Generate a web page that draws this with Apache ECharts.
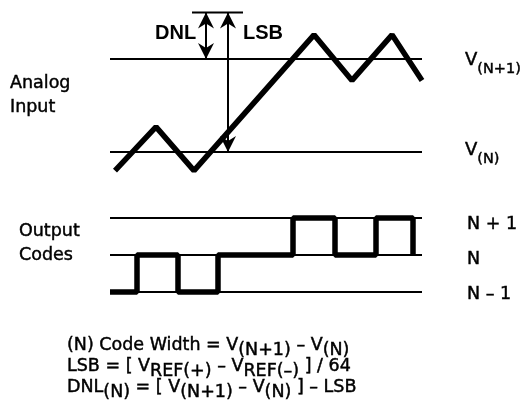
<!DOCTYPE html>
<html><head><meta charset="utf-8">
<script src="https://cdn.jsdelivr.net/npm/echarts@6/dist/echarts.min.js"></script>
<style>html,body{margin:0;padding:0;background:#fff}#c{width:522px;height:405px}</style>
</head><body><div id="c"></div>
<script>
// ---- data (time units along x; analog levels relative to V(N)=0, V(N+1)=1) ----
const timeSpan = [0, 312];
const analogInput = [[5, -0.2], [46, 0.27], [84, -0.2], [204, 1.26], [242, 0.77], [282, 1.26], [312, 0.77]];
const analogRefLevels = [0, 1];          // V(N), V(N+1)
const lsbTopLevel = 1.5;                 // V(N) + 1 LSB
const lsbTopSpan = [82, 133];
const dnlArrow = [96, 1.5, 1];           // x, from, to
const lsbArrow = [118, 1.5, 0];
const codeLevels = [-1, 0, 1];           // N-1, N, N+1
const codeTransitions = [[0, -1], [27, 0], [68, -1], [108, 0], [183, 1], [225, 0], [266, 1], [303, 0]];
const codeLabels = ['N + 1', 'N', 'N \u2013 1'];

const REG = '"DejaVu Sans", "Liberation Sans", Arial, sans-serif';
const FS = 17.5;
const black = '#000';
const STROKE = { stroke: black, lineWidth: 0.45 };

function hline(level, span, xi, w) {
  return {
    type: 'line', xAxisIndex: xi, yAxisIndex: xi, data: [[span[0], level], [span[1], level]],
    showSymbol: false, silent: true, clip: false, animation: false,
    lineStyle: { color: black, width: w }
  };
}

const series = [];
analogRefLevels.forEach(l => series.push(hline(l, timeSpan, 0, 2)));
series.push(hline(lsbTopLevel, lsbTopSpan, 0, 2));
codeLevels.forEach(l => series.push(hline(l, timeSpan, 1, 2)));
series.push({
  type: 'line', xAxisIndex: 0, yAxisIndex: 0, data: analogInput, showSymbol: false,
  silent: true, clip: false, animation: false, lineStyle: { color: black, width: 5.5 }
});
series.push({
  type: 'line', xAxisIndex: 1, yAxisIndex: 1, data: codeTransitions, step: 'end', showSymbol: false,
  silent: true, clip: false, animation: false, lineStyle: { color: black, width: 5.5 }
});
series.push({
  type: 'custom', xAxisIndex: 0, yAxisIndex: 0, data: [dnlArrow, lsbArrow], clip: false, animation: false, silent: true,
  encode: { x: 0, y: [1, 2] },
  renderItem: function (params, api) {
    const x = api.value(0), a = api.value(1), b = api.value(2);
    const p1 = api.coord([x, a]), p2 = api.coord([x, b]);
    const head = (tip, dir) => {
      const L = 16, W = 8, N = 11;
      return {
        type: 'polygon',
        shape: { points: [[tip[0], tip[1]], [tip[0] - W, tip[1] - dir * L], [tip[0], tip[1] - dir * N], [tip[0] + W, tip[1] - dir * L]] },
        style: { fill: black }
      };
    };
    return {
      type: 'group', children: [
        { type: 'line', shape: { x1: p1[0], y1: p1[1], x2: p2[0], y2: p2[1] }, style: { stroke: black, lineWidth: 2 } },
        head(p1, -1), head(p2, 1)
      ]
    };
  }
});

function t(x, y, text, extra) {
  return { type: 'text', silent: true, style: Object.assign({ x: x, y: y, text: text, fontSize: FS, fontFamily: REG, fill: black }, STROKE, extra || {}) };
}
const tok = (fs, pad) => Object.assign({ fontSize: fs, fontFamily: REG, fill: black, verticalAlign: 'top', padding: [pad, 0, 0, 0] }, STROKE);
const vLabelRich = { v: tok(18, 0), s: tok(14.5, 11) };
const fRich = { n: tok(FS, 0), s: tok(FS, 5) };
const BOLDF = { fontSize: 20, fontWeight: 'bold', fontFamily: '"Liberation Sans", Arial, sans-serif', verticalAlign: 'middle', lineWidth: 0 };

const graphic = [
  t(10, 71, 'Analog\nInput', { lineHeight: 24, verticalAlign: 'top' }),
  t(19, 219, 'Output\nCodes', { lineHeight: 24, verticalAlign: 'top' }),
  t(155, 33, 'DNL', BOLDF),
  t(243, 33, 'LSB', BOLDF),
  t(465, 51, '{v|V}{s|(N+1)}', { rich: vLabelRich, verticalAlign: 'top' }),
  t(465, 141, '{v|V}{s|(N)}', { rich: vLabelRich, verticalAlign: 'top' }),
  t(467, 224, codeLabels[0], { verticalAlign: 'middle' }),
  t(467, 259, codeLabels[1], { verticalAlign: 'middle' }),
  t(467, 294, codeLabels[2], { verticalAlign: 'middle' }),
  t(67, 336.5, '{n|(N) Code Width = V}{s|(N+1)}{n| \u2013 V}{s|(N)}', { rich: fRich, verticalAlign: 'top' }),
  t(67, 357.5, '{n|LSB = [ V}{s|REF(+)}{n| \u2013 V}{s|REF(\u2013)}{n| ] / 64}', { rich: fRich, verticalAlign: 'top' }),
  t(67, 378.5, '{n|DNL}{s|(N)}{n| = [ V}{s|(N+1)}{n| \u2013 V}{s|(N)}{n| ] \u2013 LSB}', { rich: fRich, verticalAlign: 'top' })
];

const chart = echarts.init(document.getElementById('c'), null, { renderer: 'canvas' });
chart.setOption({
  backgroundColor: '#fff',
  animation: false,
  grid: [
    { left: 110, width: 312, top: 12.5, height: 186 },
    { left: 110, width: 312, top: 218, height: 74 }
  ],
  xAxis: [
    { type: 'value', gridIndex: 0, min: timeSpan[0], max: timeSpan[1], show: false },
    { type: 'value', gridIndex: 1, min: timeSpan[0], max: timeSpan[1], show: false }
  ],
  yAxis: [
    { type: 'value', gridIndex: 0, min: -0.5, max: 1.5, show: false },
    { type: 'value', gridIndex: 1, min: -1, max: 1, show: false }
  ],
  series: series,
  graphic: graphic
});
</script></body></html>
